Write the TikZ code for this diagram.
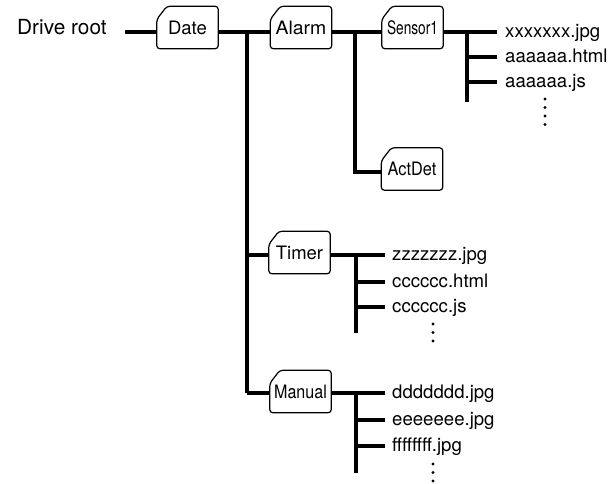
\documentclass[tikz,border=0pt]{standalone}
\usepackage{fontspec}
\setmainfont{TeX Gyre Heros}
\begin{document}
\begin{tikzpicture}[x=1pt,y=-1pt,
  folder/.style={minimum width=61pt,minimum height=42pt,inner sep=0pt,font=\fontsize{18.5}{22}\selectfont},
  folderline/.style={line width=1.2pt,rounded corners=3pt},
  conn/.style={line width=3.2pt},
  file/.style={anchor=base west,inner sep=0pt,font=\fontsize{18.6}{22}\selectfont},
  vdot/.style={circle,fill=black,inner sep=0pt,minimum size=3.4pt}]
\useasboundingbox (0,0) rectangle (615,483);
% label
\node[anchor=base west,inner sep=0pt,font=\fontsize{20.8}{24}\selectfont] (root) at (17,34) {Drive root};
\coordinate (rootend) at (125,32);
% folders
\node[folder] (date) at (187.5,27.5) {Date};
\node[folder] (alarm) at (301,27.5) {\scalebox{1.05}[1]{Alarm}};
\node[folder] (sensor) at (412.5,27.5) {\scalebox{0.74}[1]{Sensor1}};
\node[folder] (actdet) at (412,169) {\scalebox{0.88}[1]{ActDet}};
\node[folder] (timer) at (299.5,252.5) {Timer};
\node[folder] (manual) at (300.5,391.5) {\scalebox{0.87}[1]{Manual}};
\foreach \n in {date,alarm,sensor,actdet,timer,manual}
  \draw[folderline] ([yshift=-13pt]\n.north west) -- ([xshift=10pt]\n.north west) -- (\n.north east) -- (\n.south east) -- (\n.south west) -- cycle;
% junction coordinates
\coordinate (t0) at (247,32);
\coordinate (t1) at (247,255);
\coordinate (t2) at (247,393);
\coordinate (a0) at (355,32);
\coordinate (a1) at (355,172);
\coordinate (s0) at (467,32);
\coordinate (s1) at (467,57);
\coordinate (s2) at (467,82);
\coordinate (s3) at (467,102);
\coordinate (se0) at (497,32);
\coordinate (se1) at (497,57);
\coordinate (se2) at (497,82);
\coordinate (m0) at (356,255);
\coordinate (m1) at (356,282);
\coordinate (m2) at (356,307);
\coordinate (m3) at (356,333);
\coordinate (me0) at (385,255);
\coordinate (me1) at (385,282);
\coordinate (me2) at (385,307);
\coordinate (n0) at (356,393);
\coordinate (n1) at (356,420);
\coordinate (n2) at (356,446);
\coordinate (n3) at (356,473);
\coordinate (ne0) at (385,393);
\coordinate (ne1) at (385,420);
\coordinate (ne2) at (385,446);
% connectors
\draw[conn] (rootend) -- (date.west |- t0);
\draw[conn] (date.east |- t0) -- (alarm.west |- t0);
\draw[conn] (t0) -- (t2);
\draw[conn] (t1) -- (timer.west |- t1);
\draw[conn] (t2) -- (manual.west |- t2);
\draw[conn] (alarm.east |- a0) -- (sensor.west |- a0);
\draw[conn] (a0) -- (a1) -- (actdet.west |- a1);
\draw[conn] (sensor.east |- s0) -- (se0);
\draw[conn] (s0) -- (s3);
\draw[conn] (s1) -- (se1);
\draw[conn] (s2) -- (se2);
\draw[conn] (timer.east |- m0) -- (me0);
\draw[conn] (m0) -- (m3);
\draw[conn] (m1) -- (me1);
\draw[conn] (m2) -- (me2);
\draw[conn] (manual.east |- n0) -- (ne0);
\draw[conn] (n0) -- (n3);
\draw[conn] (n1) -- (ne1);
\draw[conn] (n2) -- (ne2);
% files
\node[file] (f1) at (505,37.5) {xxxxxxx.jpg};
\node[file] (f2) at (505,62.5) {aaaaaa.html};
\node[file] (f3) at (505,87.5) {aaaaaa.js};
\node[file] (f4) at (392,260.5) {zzzzzzz.jpg};
\node[file] (f5) at (392,287.5) {cccccc.html};
\node[file] (f6) at (392,312.5) {cccccc.js};
\node[file] (f7) at (392,398.5) {ddddddd.jpg};
\node[file] (f8) at (392,425.5) {eeeeeee.jpg};
\node[file] (f9) at (392,451.5) {ffffffff.jpg};
% dots
\foreach \y [count=\i] in {99,107.5,116,124.5} \node[vdot] (da\i) at (545,\y) {};
\foreach \y [count=\i] in {324,332.5,341} \node[vdot] (db\i) at (433,\y) {};
\foreach \y [count=\i] in {464,472.5,481} \node[vdot] (dc\i) at (433,\y) {};
\end{tikzpicture}
\end{document}
